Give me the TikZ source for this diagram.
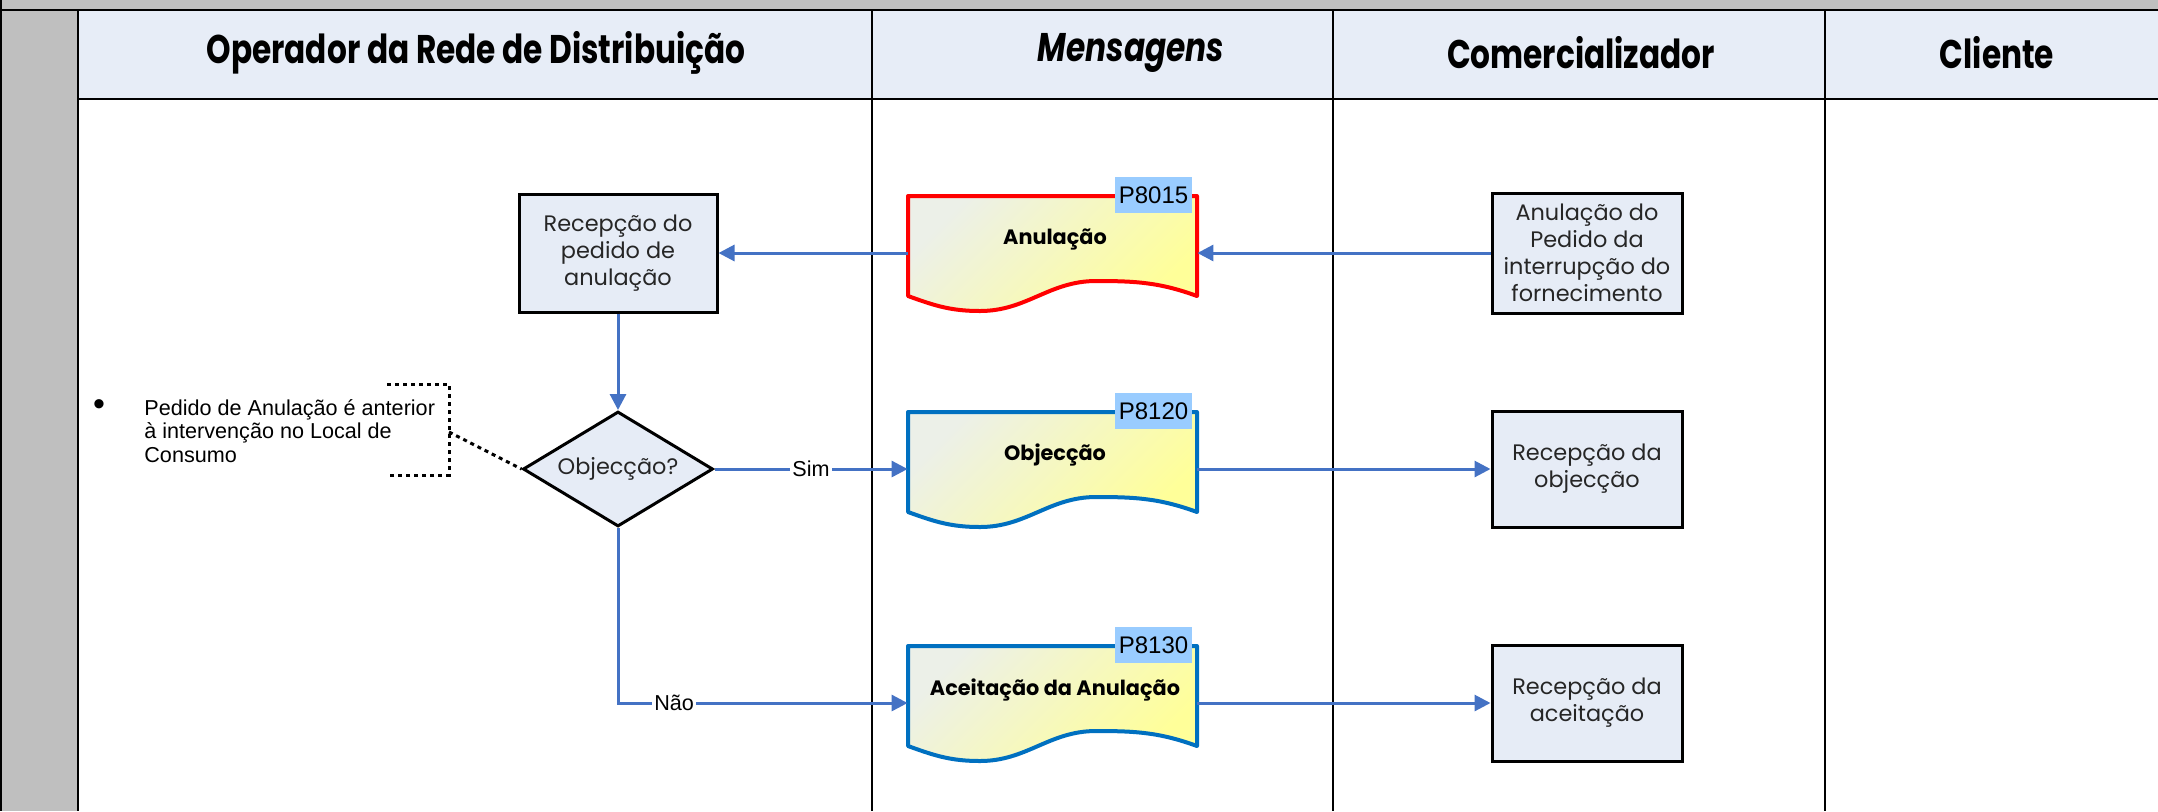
\documentclass[tikz,border=0pt]{standalone}
\usepackage{fontspec}
\setmainfont{Poppins}
\newfontfamily\arialf{Liberation Sans}
\newfontfamily\hdrf[FakeStretch=0.78]{Poppins}
\usetikzlibrary{shapes.geometric,arrows.meta,calc}
\definecolor{graycol}{HTML}{BFBFBF}
\definecolor{hdrfill}{HTML}{E7EDF7}
\definecolor{boxfill}{HTML}{E6ECF6}
\definecolor{connc}{HTML}{4472C4}
\definecolor{docblue}{HTML}{0070C0}
\definecolor{docred}{HTML}{FF0000}
\definecolor{tagc}{HTML}{99CCFF}
\definecolor{doctop}{HTML}{ECF0E8}
\definecolor{docmid}{HTML}{F9FAAA}
\definecolor{docbot}{HTML}{FFFF99}
\definecolor{txtc}{HTML}{262626}
\begin{document}
\begin{tikzpicture}[x=0.5pt,y=-0.5pt,
  hdr/.style={font=\hdrf\fontsize{20}{22}\selectfont\bfseries, text=black},
  procbox/.style={draw=black, line width=1.5pt, fill=boxfill, align=center, text=txtc,
     font=\fontsize{11.2}{13.5}\selectfont, inner sep=0pt},
  decision/.style={diamond, aspect=1.65, draw=black, line width=1.5pt, fill=boxfill, text=txtc,
     font=\fontsize{11.2}{13.5}\selectfont, inner sep=0pt, minimum width=95pt, minimum height=57.5pt},
  docnode/.style={minimum width=144.5pt, minimum height=57pt, inner sep=0pt},
  doctitle/.style={font=\fontsize{10.4}{12}\selectfont\bfseries, text=black},
  tag/.style={fill=tagc, minimum width=38.5pt, minimum height=18pt, inner sep=0pt,
     font=\arialf\fontsize{12}{13}\selectfont},
  docshape/.style={top color=doctop, middle color=docmid, bottom color=docbot, shading angle=45, line width=2pt, line join=round},
  conn/.style={draw=connc, line width=1.5pt, -{Triangle[length=8pt,width=8pt]}},
  lbl/.style={fill=white, inner sep=1pt, font=\arialf\fontsize{10.8}{12}\selectfont},
  note/.style={font=\arialf\fontsize{10.8}{11.8}\selectfont, align=left, inner sep=0pt},
  dotln/.style={draw=black, line width=1.5pt, dash pattern=on 2pt off 2pt}
]
\useasboundingbox (0,0) rectangle (2158,811);
% frame
\fill[graycol] (0,0) rectangle (2158,10);
\fill[hdrfill] (78,10) rectangle (2158,99);
\fill[graycol] (0,10) rectangle (78,811);
\draw[line width=1pt] (0,10) -- (2158,10);
\draw[line width=1pt] (1,0) -- (1,811);
\draw[line width=1pt] (78,10) -- (78,811);
\draw[line width=1pt] (78,99) -- (2158,99);
\draw[line width=0.6pt] (872,10) -- (872,811);
\draw[line width=0.6pt] (1333,10) -- (1333,811);
\draw[line width=1.2pt] (1825,10) -- (1825,811);
% headers
\node[hdr] (h1) at (476,53) {Operador da Rede de Distribuição};
\node[hdr] (h2) at (1131,53) {\itshape Mensagens};
\node[hdr] (h3) at (1581,53) {Comercializador};
\node[hdr] (h4) at (1997,53) {Cliente};
% process boxes
\node[procbox, minimum width=99pt, minimum height=59pt] (recped) at (618,253) {Recepção do\\pedido de\\anulação};
\node[procbox, minimum width=95pt, minimum height=60pt] (anulped) at (1587,253) {Anulação do\\Pedido da\\interrupção do\\fornecimento};
\node[decision] (obj) at (618,469) {Objecção?};
\node[procbox, minimum width=95pt, minimum height=58pt] (recobj) at (1587,469) {Recepção da\\objecção};
\node[procbox, minimum width=95pt, minimum height=58pt] (recacc) at (1587,703) {Recepção da\\aceitação};
% documents
\path[docshape, draw=docred] (908,196) -- (1197,196) -- (1197,296) to[out=160,in=0] (1096,281) to[out=180,in=0] (980,311) to[out=180,in=-20] (908,296) -- cycle;
\path[docshape, draw=docblue] (908,412) -- (1197,412) -- (1197,512) to[out=160,in=0] (1096,497) to[out=180,in=0] (980,527) to[out=180,in=-20] (908,512) -- cycle;
\path[docshape, draw=docblue] (908,646) -- (1197,646) -- (1197,746) to[out=160,in=0] (1096,731) to[out=180,in=0] (980,761) to[out=180,in=-20] (908,746) -- cycle;
\node[docnode] (anul) at (1052.5,253) {};
\node[docnode] (objm) at (1052.5,469) {};
\node[docnode] (accm) at (1052.5,703) {};
\node[doctitle] (t1) at (1055,239) {Anulação};
\node[doctitle] (t2) at (1055,455) {Objecção};
\node[doctitle] (t3) at (1055,690) {Aceitação da Anulação};
\node[tag] (p1) at (1153.5,195) {P8015};
\node[tag] (p2) at (1153.5,411) {P8120};
\node[tag] (p3) at (1153.5,645) {P8130};
% connectors
\draw[conn] (anulped.west) -- (anul.east);
\draw[conn] (anul.west) -- (recped.east);
\draw[conn] (recped.south) -- (obj.north);
\draw[conn] (obj.east) -- node[lbl, pos=0.5] {Sim} (objm.west);
\draw[conn] (objm.east) -- (recobj.west);
\draw[conn] (obj.south) |- node[lbl, pos=0.597] {Não} (accm.west);
\draw[conn] (accm.east) -- (recacc.west);
% annotation
\node[font=\arialf\fontsize{17}{17}\selectfont, inner sep=0pt] (bul) at (99,408) {•};
\node[note, anchor=west] (ann) at (144,431) {Pedido de Anulação é anterior\\à intervenção no Local de\\Consumo};
\draw[dotln] (387,384) -- (449,384) -- (449,475) -- (387,475);
\coordinate (brk) at (449,432);
\draw[dotln] (brk) -- (obj.west);
\end{tikzpicture}
\end{document}
